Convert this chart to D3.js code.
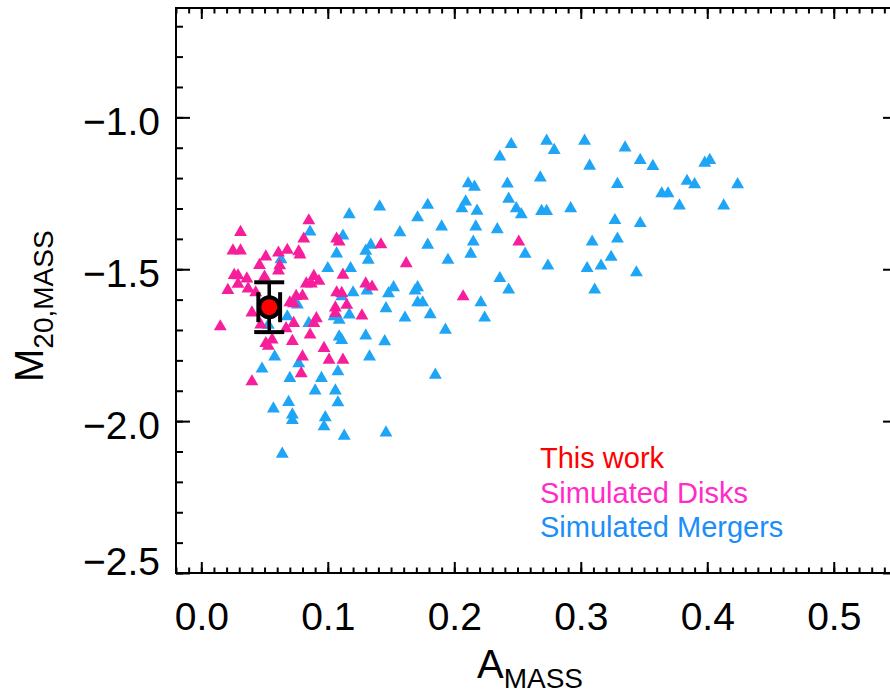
<!DOCTYPE html>
<html>
<head>
<meta charset="utf-8">
<script src="https://cdn.jsdelivr.net/npm/d3@7"></script>
<style>
  html, body { margin: 0; padding: 0; background: #fff; }
  svg { display: block; }
  text { font-family: "Liberation Sans", Arial, Helvetica, sans-serif; }
</style>
</head>
<body>
<svg id="chart" width="890" height="693"></svg>
<script>
// Simulated disk galaxies: [A_MASS, M20_MASS]
const diskPoints = [
  [0.031,-1.378],[0.025,-1.439],[0.031,-1.439],[0.051,-1.459],[0.046,-1.487],
  [0.026,-1.520],[0.029,-1.521],[0.036,-1.531],[0.050,-1.525],[0.029,-1.549],
  [0.021,-1.569],[0.037,-1.564],[0.043,-1.577],[0.040,-1.643],[0.015,-1.689],
  [0.047,-1.683],[0.051,-1.744],[0.056,-1.732],[0.053,-1.753],[0.040,-1.870],
  [0.061,-1.446],[0.068,-1.437],[0.077,-1.442],[0.078,-1.452],[0.085,-1.340],
  [0.081,-1.400],[0.062,-1.488],[0.061,-1.505],[0.083,-1.548],[0.087,-1.548],
  [0.089,-1.523],[0.093,-1.539],[0.075,-1.589],[0.080,-1.588],[0.070,-1.610],
  [0.073,-1.613],[0.107,-1.400],[0.109,-1.410],[0.112,-1.519],[0.107,-1.577],
  [0.111,-1.579],[0.106,-1.627],[0.115,-1.618],[0.127,-1.653],[0.135,-1.558],
  [0.130,-1.548],[0.073,-1.678],[0.067,-1.695],[0.089,-1.678],[0.091,-1.662],
  [0.106,-1.645],[0.086,-1.716],[0.072,-1.737],[0.097,-1.760],[0.080,-1.788],
  [0.101,-1.799],[0.112,-1.799],[0.079,-1.843],[0.142,-1.419],[0.162,-1.481],
  [0.251,-1.410],[0.207,-1.590]
];

// Simulated mergers: [A_MASS, M20_MASS]
const mergerPoints = [
  [0.063,-1.468],[0.086,-1.377],[0.112,-1.390],[0.107,-1.449],[0.100,-1.497],
  [0.118,-1.497],[0.134,-1.420],[0.130,-1.440],[0.132,-1.470],[0.131,-1.571],
  [0.120,-1.577],[0.111,-1.590],[0.117,-1.650],[0.105,-1.656],[0.109,-1.667],
  [0.068,-1.656],[0.076,-1.617],[0.085,-1.678],[0.053,-1.684],[0.109,-1.722],
  [0.111,-1.734],[0.130,-1.719],[0.133,-1.788],[0.058,-1.788],[0.048,-1.828],
  [0.077,-1.810],[0.108,-1.837],[0.070,-1.859],[0.095,-1.859],[0.090,-1.900],
  [0.106,-1.900],[0.108,-1.939],[0.069,-1.938],[0.057,-1.959],[0.072,-1.979],
  [0.072,-1.997],[0.098,-1.988],[0.097,-2.018],[0.113,-2.049],[0.146,-2.038],
  [0.064,-2.108],[0.117,-1.320],[0.141,-1.294],[0.245,-1.089],[0.273,-1.078],
  [0.279,-1.108],[0.303,-1.078],[0.335,-1.100],[0.236,-1.130],[0.307,-1.160],
  [0.268,-1.199],[0.211,-1.218],[0.216,-1.229],[0.242,-1.219],[0.329,-1.220],
  [0.179,-1.289],[0.209,-1.278],[0.206,-1.300],[0.218,-1.308],[0.243,-1.269],
  [0.249,-1.300],[0.253,-1.320],[0.269,-1.309],[0.273,-1.309],[0.292,-1.300],
  [0.171,-1.330],[0.157,-1.379],[0.190,-1.360],[0.217,-1.360],[0.234,-1.369],
  [0.327,-1.339],[0.329,-1.400],[0.309,-1.410],[0.179,-1.420],[0.215,-1.410],
  [0.213,-1.450],[0.256,-1.450],[0.195,-1.470],[0.274,-1.489],[0.305,-1.497],
  [0.316,-1.489],[0.324,-1.460],[0.236,-1.530],[0.243,-1.568],[0.311,-1.568],
  [0.152,-1.560],[0.148,-1.580],[0.169,-1.571],[0.171,-1.560],[0.171,-1.610],
  [0.175,-1.610],[0.146,-1.629],[0.161,-1.660],[0.181,-1.649],[0.221,-1.610],
  [0.224,-1.660],[0.193,-1.700],[0.145,-1.738],[0.185,-1.848],[0.347,-1.141],
  [0.357,-1.161],[0.398,-1.150],[0.402,-1.141],[0.384,-1.210],[0.390,-1.221],
  [0.424,-1.221],[0.364,-1.251],[0.369,-1.251],[0.378,-1.291],[0.413,-1.291],
  [0.347,-1.349],[0.344,-1.511]
];

// Measured value with uncertainties
const thisWorkA = 0.0537;
const thisWorkM20 = -1.625;
const thisWorkAErr = 0.0086;
const thisWorkM20Err = 0.082;

const xTicks = [0.0, 0.1, 0.2, 0.3, 0.4, 0.5];
const yTicks = [-2.5, -2.0, -1.5, -1.0];
const legendLabels = ["This work", "Simulated Disks", "Simulated Mergers"];
const legendColors = ["#ff0000", "#ff2cc8", "#1c8ef8"];

const diskColor = "#f71e9c";
const mergerColor = "#1fa5f5";

(function draw() {
  const svg = d3.select("#chart");
  const plotL = 176, plotR = 897, plotT = 8, plotB = 573;

  const x = d3.scaleLinear().domain([-0.02, 0.55]).range([plotL, plotR]);
  const y = d3.scaleLinear().domain([-2.5, -0.64]).range([plotB, plotT]);

  const xMinor = d3.range(-2, 56).map(i => i / 100);
  const yMinor = d3.range(-25, -6).map(i => i / 10);

  function styleAxis(g) {
    g.select(".domain").remove();
    g.selectAll(".tick line").attr("stroke", "#000").attr("stroke-width", 2);
  }

  // Bottom axis
  svg.append("g").attr("transform", `translate(0,${plotB})`)
    .call(d3.axisBottom(x).tickValues(xMinor).tickSize(-5.5).tickFormat(""))
    .call(styleAxis);
  const gx = svg.append("g").attr("transform", `translate(0,${plotB})`)
    .call(d3.axisBottom(x).tickValues(xTicks).tickSize(-11).tickFormat(d3.format(".1f")))
    .call(styleAxis);
  gx.selectAll("text").attr("y", 57).attr("dy", null)
    .attr("font-size", 39).attr("fill", "#000");

  // Top axis
  svg.append("g").attr("transform", `translate(0,${plotT})`)
    .call(d3.axisTop(x).tickValues(xMinor).tickSize(-5.5).tickFormat(""))
    .call(styleAxis);
  svg.append("g").attr("transform", `translate(0,${plotT})`)
    .call(d3.axisTop(x).tickValues(xTicks).tickSize(-11).tickFormat(""))
    .call(styleAxis);

  // Left axis
  svg.append("g").attr("transform", `translate(${plotL},0)`)
    .call(d3.axisLeft(y).tickValues(yMinor).tickSize(-7).tickFormat(""))
    .call(styleAxis);
  const gy = svg.append("g").attr("transform", `translate(${plotL},0)`)
    .call(d3.axisLeft(y).tickValues(yTicks).tickSize(-14).tickPadding(16).tickFormat(d3.format(".1f")))
    .call(styleAxis);
  gy.selectAll("text")
    .attr("font-size", 39).attr("fill", "#000")
    .attr("dy", d => d === y.domain()[0] ? "0.05em" : "0.44em");

  // Right axis
  svg.append("g").attr("transform", `translate(${plotR},0)`)
    .call(d3.axisRight(y).tickValues(yMinor).tickSize(-7).tickFormat(""))
    .call(styleAxis);
  svg.append("g").attr("transform", `translate(${plotR},0)`)
    .call(d3.axisRight(y).tickValues(yTicks).tickSize(-14).tickFormat(""))
    .call(styleAxis);

  // Frame
  svg.append("rect")
    .attr("x", plotL).attr("y", plotT)
    .attr("width", plotR - plotL).attr("height", plotB - plotT)
    .attr("fill", "none").attr("stroke", "#000").attr("stroke-width", 2);

  // Markers
  const tri = d3.symbol().type(d3.symbolTriangle).size(72);
  svg.append("g").selectAll("path").data(mergerPoints).join("path")
    .attr("d", tri)
    .attr("transform", d => `translate(${x(d[0])},${y(d[1])})`)
    .attr("fill", mergerColor);
  svg.append("g").selectAll("path").data(diskPoints).join("path")
    .attr("d", tri)
    .attr("transform", d => `translate(${x(d[0])},${y(d[1])})`)
    .attr("fill", diskColor);

  // This-work point with error bars
  const tw = svg.append("g").attr("stroke", "#000");
  const cx = x(thisWorkA), cy = y(thisWorkM20);
  const yLo = y(thisWorkM20 - thisWorkM20Err), yHi = y(thisWorkM20 + thisWorkM20Err);
  const xLo = x(thisWorkA - thisWorkAErr), xHi = x(thisWorkA + thisWorkAErr);
  tw.append("line").attr("x1", cx).attr("x2", cx).attr("y1", yHi).attr("y2", yLo).attr("stroke-width", 3.5);
  tw.append("line").attr("x1", xLo).attr("x2", xHi).attr("y1", cy).attr("y2", cy).attr("stroke-width", 3.5);
  [yLo, yHi].forEach(v => tw.append("line")
    .attr("x1", cx - 15).attr("x2", cx + 15).attr("y1", v).attr("y2", v).attr("stroke-width", 4));
  [xLo, xHi].forEach(v => tw.append("line")
    .attr("x1", v).attr("x2", v).attr("y1", cy - 15).attr("y2", cy + 15).attr("stroke-width", 4));
  tw.append("circle").attr("cx", cx).attr("cy", cy).attr("r", 10)
    .attr("fill", "#ff0000").attr("stroke-width", 4);

  // Legend
  svg.append("g").selectAll("text").data(legendLabels).join("text")
    .attr("x", 540)
    .attr("y", (d, i) => 468 + i * 34.5)
    .attr("font-size", 29)
    .attr("fill", (d, i) => legendColors[i])
    .text(d => d);

  // Axis titles
  const xt = svg.append("text").attr("x", 477).attr("y", 678).attr("fill", "#000");
  xt.append("tspan").attr("font-size", 40).text("A");
  xt.append("tspan").attr("font-size", 28).attr("dy", 10).text("MASS");

  const yt = svg.append("text").attr("transform", "translate(43,382) rotate(-90)").attr("fill", "#000");
  yt.append("tspan").attr("font-size", 40).text("M");
  yt.append("tspan").attr("font-size", 28).attr("dy", 10).text("20,MASS");
})();
</script>
</body>
</html>
